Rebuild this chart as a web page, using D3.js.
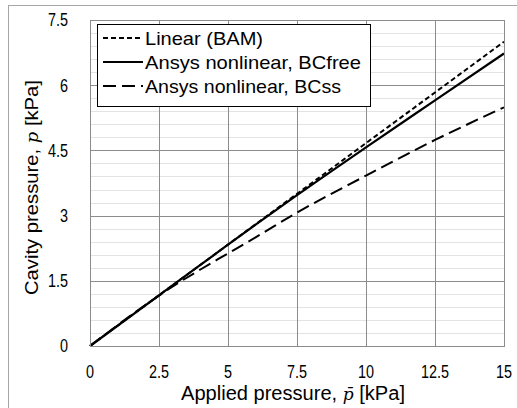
<!DOCTYPE html>
<html>
<head>
<meta charset="utf-8">
<script src="https://cdn.jsdelivr.net/npm/d3@7"></script>
<style>
  body { margin: 0; background: #fff; }
  svg text { font-family: "Liberation Sans Narrow", "Arial Narrow", "Liberation Sans", sans-serif; fill: #000; }
</style>
</head>
<body>
<div id="chart"></div>
<script>
// applied pressure [kPa]
const applied = [0, 2.5, 3, 4, 5, 6, 7.5, 10, 12.5, 15];
// cavity pressure [kPa]
const linearBAM = [0, 1.167, 1.4, 1.867, 2.333, 2.8, 3.5, 4.667, 5.833, 7.0];
const bcFree = [0, 1.167, 1.4, 1.865, 2.33, 2.79, 3.47, 4.57, 5.65, 6.73];
const bcSs = [0, 1.16, 1.37, 1.76, 2.13, 2.5, 3.07, 3.92, 4.74, 5.49];

const xTicks = [0, 2.5, 5, 7.5, 10, 12.5, 15];
const yTicks = [0, 1.5, 3, 4.5, 6, 7.5];
const seriesNames = ["Linear (BAM)", "Ansys nonlinear, BCfree", "Ansys nonlinear, BCss"];

let width = 517, height = 408;
let margin = { top: 20, right: 13, bottom: 62, left: 90 };

let svg = d3.select("#chart").append("svg")
    .attr("width", width)
    .attr("height", height);

// squeeze text a bit, the original font is a narrow one
function narrow(sel, k) {
    sel.each(function () {
        let len = this.getComputedTextLength();
        d3.select(this)
            .attr("textLength", len * k)
            .attr("lengthAdjust", "spacingAndGlyphs");
    });
}

// outer frame
svg.append("rect")
    .attr("x", 8.5).attr("y", 5.5)
    .attr("width", 520).attr("height", 420)
    .attr("fill", "none")
    .attr("stroke", "#a6a6a6");

let x = d3.scaleLinear().domain([0, 15]).range([margin.left, width - margin.right]);
let y = d3.scaleLinear().domain([0, 7.5]).range([height - margin.bottom, margin.top]);

// minor horizontal grid
let minor = d3.range(0, 7.5001, 0.3).filter(v => yTicks.every(t => Math.abs(t - v) > 1e-6));
svg.append("g").selectAll("line")
    .data(minor)
    .enter().append("line")
    .attr("x1", x(0)).attr("x2", x(15))
    .attr("y1", d => Math.round(y(d)) + 0.5)
    .attr("y2", d => Math.round(y(d)) + 0.5)
    .attr("stroke", "#e3e3e3");

// major grid
svg.append("g").selectAll("line")
    .data(yTicks)
    .enter().append("line")
    .attr("x1", x(0)).attr("x2", x(15))
    .attr("y1", d => Math.round(y(d)) + 0.5)
    .attr("y2", d => Math.round(y(d)) + 0.5)
    .attr("stroke", "#8c8c8c");
svg.append("g").selectAll("line")
    .data(xTicks)
    .enter().append("line")
    .attr("x1", d => Math.round(x(d)) + 0.5)
    .attr("x2", d => Math.round(x(d)) + 0.5)
    .attr("y1", y(0)).attr("y2", y(7.5))
    .attr("stroke", "#8c8c8c");

// tick labels
svg.append("g").selectAll("text")
    .data(yTicks)
    .enter().append("text")
    .attr("x", 68)
    .attr("y", d => y(d))
    .attr("dy", "0.35em")
    .attr("text-anchor", "end")
    .style("font-size", "18px")
    .text(d => d)
    .call(narrow, 0.8);
svg.append("g").selectAll("text")
    .data(xTicks)
    .enter().append("text")
    .attr("x", d => x(d))
    .attr("y", 372)
    .attr("dy", "0.35em")
    .attr("text-anchor", "middle")
    .style("font-size", "18px")
    .text(d => d)
    .call(narrow, 0.8);

// axis titles
let xt = svg.append("text")
    .attr("x", 181)
    .attr("y", 400)
    .attr("textLength", 224)
    .attr("lengthAdjust", "spacingAndGlyphs")
    .style("font-size", "20px");
xt.append("tspan").text("Applied pressure, ");
xt.append("tspan").style("font-family", "DejaVu Serif").style("font-style", "italic").style("font-size", "17px").text("p\u0304");
xt.append("tspan").text(" [kPa]");

let yt = svg.append("text")
    .attr("transform", "translate(38,295) rotate(-90)")
    .attr("textLength", 215)
    .attr("lengthAdjust", "spacingAndGlyphs")
    .style("font-size", "18px");
yt.append("tspan").text("Cavity pressure, ");
yt.append("tspan").style("font-family", "DejaVu Serif").style("font-style", "italic").style("font-size", "16px").text("p");
yt.append("tspan").text(" [kPa]");

// lines
let series = [
    { name: seriesNames[0], vals: linearBAM, dash: "5,3", w: 2 },
    { name: seriesNames[1], vals: bcFree, dash: null, w: 2.2 },
    { name: seriesNames[2], vals: bcSs, dash: "13,6", w: 2 }
];
let line = d3.line()
    .x((d, i) => x(applied[i]))
    .y(d => y(d))
    .curve(d3.curveMonotoneX);

svg.append("g").selectAll("path")
    .data(series)
    .enter().append("path")
    .attr("d", d => line(d.vals))
    .attr("fill", "none")
    .attr("stroke", "#000")
    .attr("stroke-width", d => d.w)
    .attr("stroke-dasharray", d => d.dash);

// plot border
svg.append("rect")
    .attr("x", x(0) + 0.5).attr("y", y(7.5) + 0.5)
    .attr("width", x(15) - x(0)).attr("height", y(0) - y(7.5))
    .attr("fill", "none")
    .attr("stroke", "#8c8c8c");

// legend
let legend = svg.append("g");
legend.append("rect")
    .attr("x", 97.5).attr("y", 24.5)
    .attr("width", 273).attr("height", 82)
    .attr("fill", "#fff")
    .attr("stroke", "#000");
let textLens = [118, 216, 196];
let items = legend.selectAll("g.item")
    .data(series)
    .enter().append("g")
    .attr("class", "item")
    .attr("transform", (d, i) => "translate(0," + (38 + i * 24) + ")");
items.append("line")
    .attr("x1", 103).attr("x2", 143)
    .attr("stroke", "#000")
    .attr("stroke-width", d => d.w)
    .attr("stroke-dasharray", d => d.dash);
items.append("text")
    .attr("x", 145)
    .attr("dy", "0.35em")
    .attr("textLength", (d, i) => textLens[i])
    .attr("lengthAdjust", "spacingAndGlyphs")
    .style("font-size", "19px")
    .text(d => d.name);
</script>
</body>
</html>
